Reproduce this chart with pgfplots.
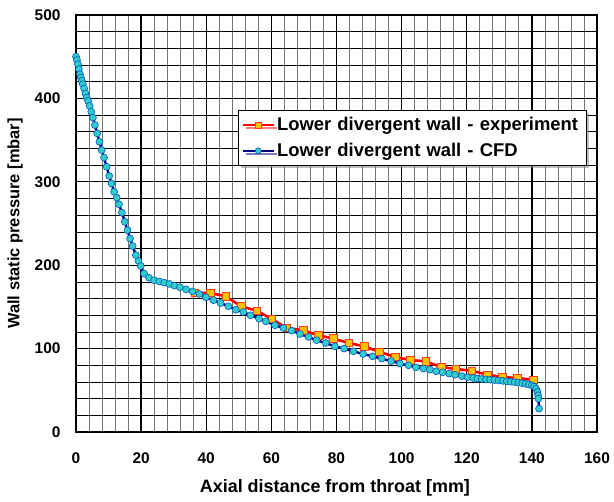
\documentclass[border=0pt]{standalone}
\usepackage{fontspec}
\setmainfont{Liberation Sans}
\usepackage{pgfplots}
\pgfplotsset{compat=1.18}
\usetikzlibrary{shadows}
\definecolor{expfill}{RGB}{255,192,0}
\definecolor{expedge}{RGB}{255,60,30}
\definecolor{cfdline}{RGB}{0,0,128}
\definecolor{cfdfill}{RGB}{51,204,204}
\definecolor{cfdedge}{RGB}{0,90,190}
\begin{document}
\begin{tikzpicture}
\begin{axis}[
  scale only axis,
  width=521bp, height=417bp,
  xmin=0, xmax=160, ymin=0, ymax=500,
  xtick={0,20,...,160}, ytick={0,100,...,500},
  minor x tick num=4, minor y tick num=4,
  grid=both,
  major grid style={black, line width=1.3pt},
  minor x grid style={black!55, line width=0.8pt},
  minor y grid style={black, line width=0.6pt},
  axis line style={black, line width=1.5pt},
  major tick length=0pt, minor tick length=0pt,
  /pgf/number format/assume math mode=true,
  tick label style={font=\fontsize{15.5}{17}\selectfont\bfseries},
  xticklabel style={yshift=-17bp},
  yticklabel style={xshift=-12bp},
  xlabel={Axial distance from throat [mm]},
  ylabel={Wall static pressure [mbar]},
  xlabel style={font=\fontsize{18}{20}\selectfont\bfseries, at={(axis description cs:0.497,-0.134)}, anchor=center},
  ylabel style={font=\fontsize{16.5}{18}\selectfont\bfseries, at={(axis description cs:-0.117,0.5)}, anchor=center},
  legend style={at={(0.311,0.772)}, anchor=north west, draw=black, line width=0.8pt, fill=white,
    drop shadow={shadow xshift=3bp, shadow yshift=-3bp, fill=black!50},
    font=\fontsize{18.5}{20}\selectfont\bfseries, row sep=7bp, inner xsep=3bp, inner ysep=5bp,
    /tikz/column 2/.style={nodes={text width=304bp, align=left}}},
  legend cell align=left,
  legend image code/.code={\draw[#1] (0bp,0bp) -- (31bp,0bp); \draw[#1, only marks, mark size=3pt] plot coordinates {(15.5bp,0bp)};},
]
\addplot[color=red, line width=2.6pt, mark=square*, mark size=3.8pt,
  mark options={fill=expfill, draw=expedge, line width=0.6pt, solid}]
coordinates {
(36.5,167) (41.2,166.7) (46,162.7) (50.7,150.7) (55.5,145.5) (60.1,135.5)
(64.7,124.7) (69.8,122) (74.4,116) (79,112) (83.8,106.7) (88.5,102.7)
(93.2,96) (98,90) (102.6,86.3) (107.4,84.7) (112.1,78) (116.7,75.5)
(121.5,73.5) (126.3,68.7) (130.9,66) (135.5,64.7) (140.4,62.7)
};
\addlegendentry{Lower divergent wall - experiment}
\addplot[color=cfdline, line width=2.4pt, mark=*, mark size=3.5pt,
  mark options={fill=cfdfill, draw=cfdedge, line width=0.6pt, solid}]
coordinates {
(0,450) (0.3,446) (0.6,441) (0.9,435) (1.2,429) (1.5,425) (1.8,421) (2.1,417)
(2.5,412) (2.9,406) (3.3,401) (3.7,397) (4.2,391) (4.7,384) (5.2,377) (5.8,368)
(6.5,358) (7.2,348) (7.9,338) (8.6,329) (9.4,318) (10.2,307) (10.9,298) (11.7,288)
(12.5,281) (13.2,273) (14.1,263) (15.0,252) (15.8,242) (16.6,232) (17.4,223)
(18.4,212) (19.2,205) (19.9,199) (20.9,190) (22.4,185) (24.0,182) (25.6,180.5)
(27.1,179) (28.7,177.5) (30.2,175.5) (31.9,173.5) (33.8,171) (35.8,168.5)
(37.9,165.5) (39.9,161.5) (42.2,158) (44.4,154.7) (46.8,150.7) (49.1,146.6)
(51.4,143.9) (53.6,139.9) (56.2,135.9) (58.3,132.7) (61.1,128) (63.7,124.7)
(66.2,121.5) (68.8,117.5) (71.4,114) (73.9,110) (76.7,106.7) (79.5,102.7)
(82.3,100) (85.2,96.7) (88.2,93.5) (91.1,90.7) (93.9,88) (96.8,85) (99.5,82)
(102.1,80) (104.4,77.5) (106.7,76) (108.7,74.7) (110.6,72.8) (112.6,71.6)
(114.6,70) (116.4,68.7) (118.5,67) (120.2,65.6) (122,64.7) (123.3,64)
(124.6,63.5) (125.9,63) (127.2,62.7) (128.5,62.3) (129.8,61.8) (131.1,61.3)
(132.3,60.8) (133.5,60.3) (134.7,59.8) (135.9,59.2) (137,58.5) (138.1,57.8)
(139.1,57) (140,56) (140.7,54.5) (141.3,52) (141.7,48) (141.9,44) (142,40) (142.2,28)
};
\addlegendentry{Lower divergent wall - CFD}
\end{axis}
\pgfresetboundingbox
\path[use as bounding box] (current axis.south west) ++(-76bp,-70bp) rectangle ([shift={(17bp,15bp)}]current axis.north east);
\end{tikzpicture}
\end{document}
